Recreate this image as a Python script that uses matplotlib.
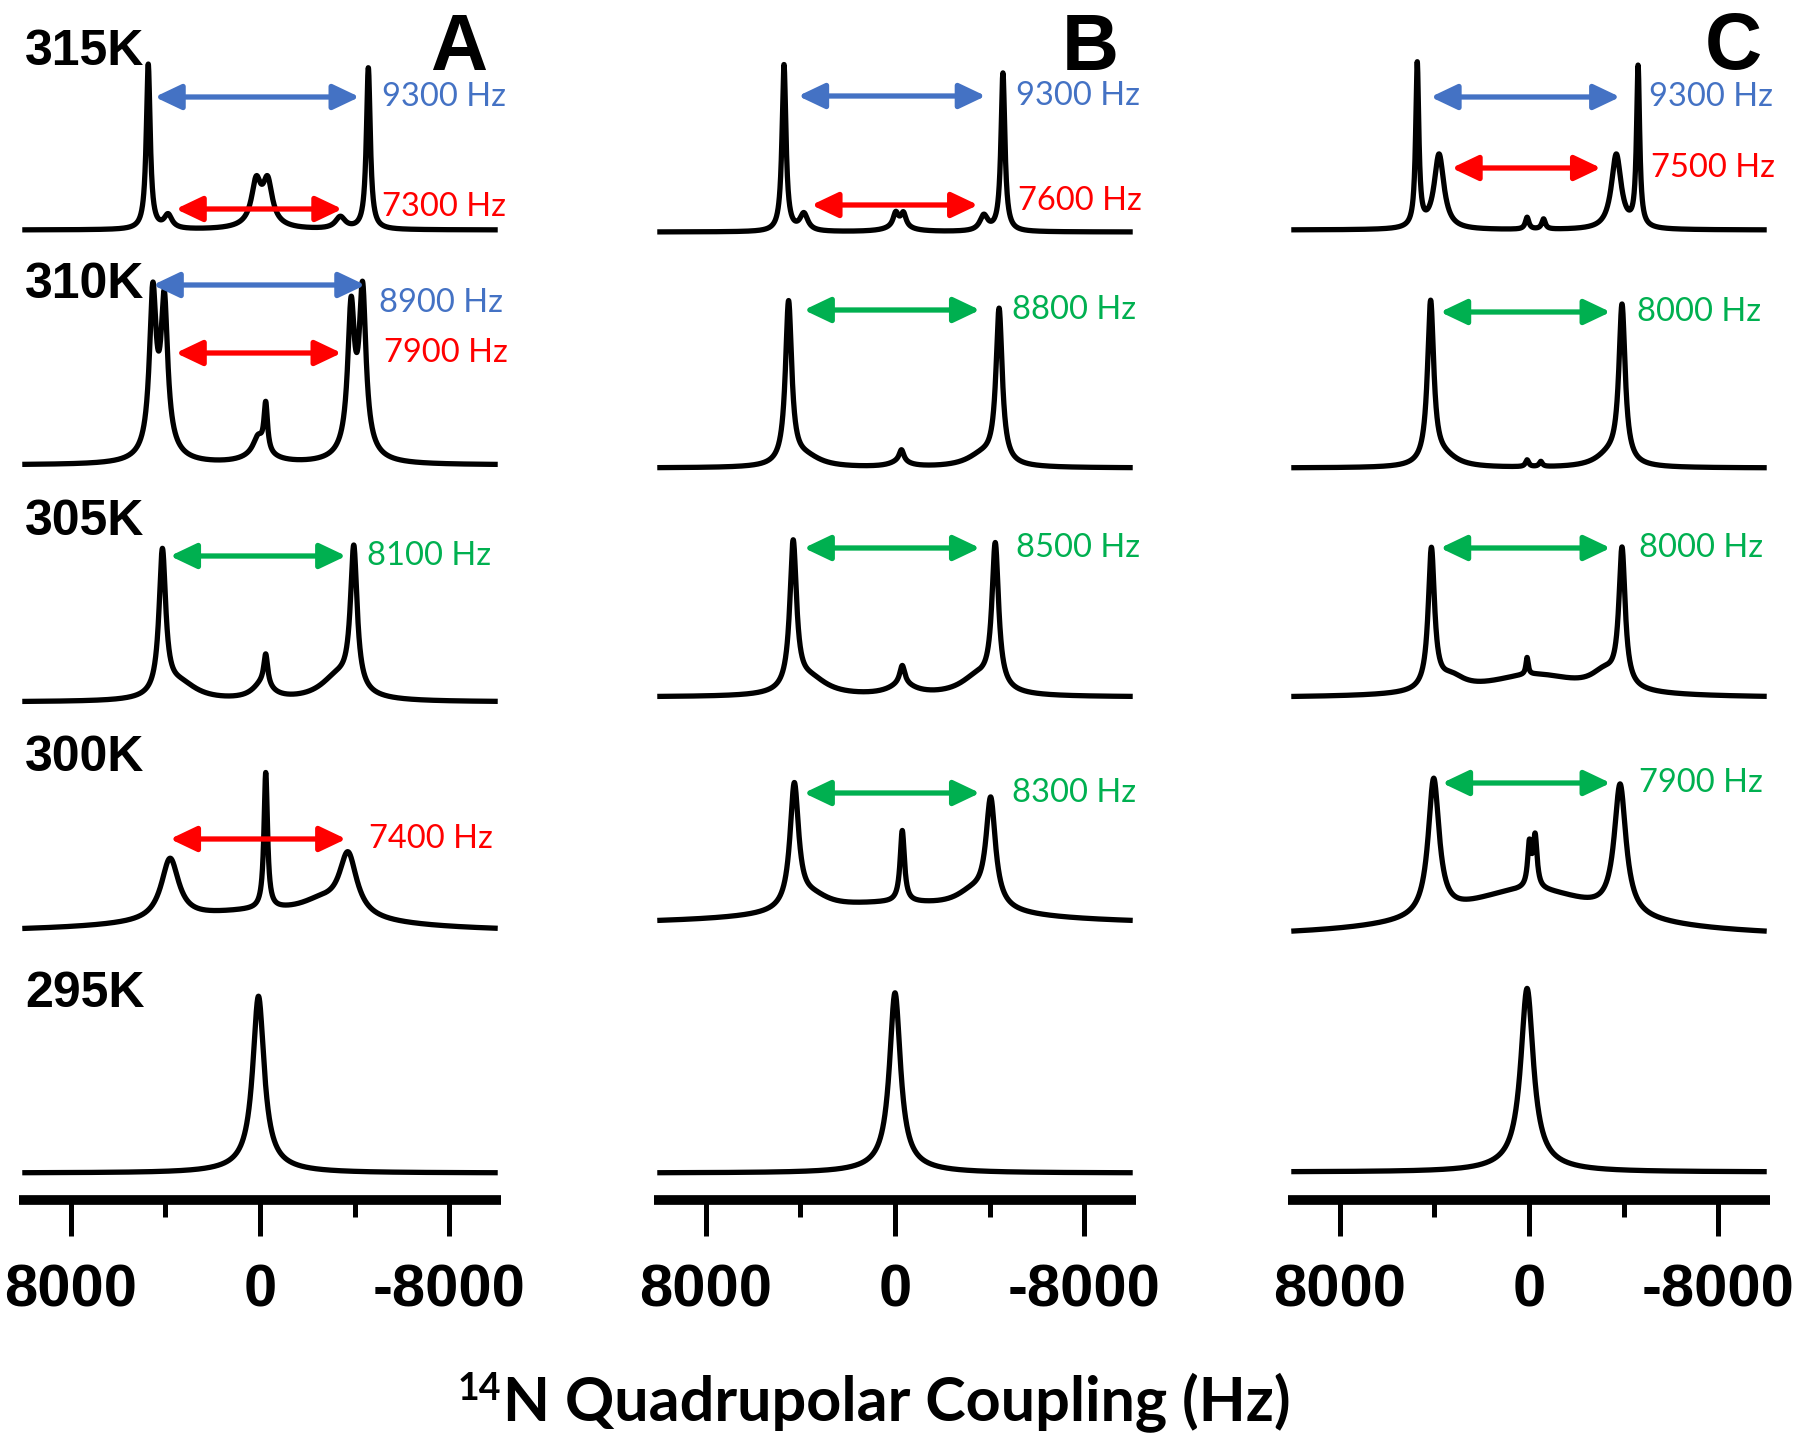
import numpy as np
import matplotlib
matplotlib.use("Agg")
import matplotlib.pyplot as plt
from matplotlib import font_manager

# ---------------- data ----------------
temperatures = ["315K", "310K", "305K", "300K", "295K"]
panels = ["A", "B", "C"]
tick_values = [8000, 0, -8000]
minor_tick_values = [4000, -4000]

# Lorentzian components for each spectrum: (position Hz, relative height, half-width Hz)
A_315 = [(4730, 0.97, 100), (-4585, 0.95, 100), (162, 0.23, 230), (-324, 0.23, 230),
         (3890, 0.08, 200), (-3400, 0.07, 250), (-80, 0.05, 700)]
A_310 = [(4536, 0.90, 170), (4050, 0.83, 170), (-3856, 0.80, 170), (-4342, 0.90, 170),
         (4200, 0.10, 700), (-4100, 0.10, 700), (-243, 0.28, 90), (81, 0.10, 250), (0, 0.05, 800)]
A_305 = [(4131, 0.84, 170), (-3969, 0.83, 170), (3400, 0.10, 900), (-3300, 0.14, 900),
         (-243, 0.18, 100), (-100, 0.09, 500)]
A_300 = [(0, 0.12, 5000), (3807, 0.36, 450), (-3726, 0.36, 450), (-2600, 0.08, 1100),
         (-243, 0.80, 90)]
A_295 = [(65, 1.00, 290), (65, 0.04, 1500)]

B_315 = [(4698, 0.98, 100), (-4568, 0.93, 100), (3856, 0.10, 200), (-3758, 0.09, 200),
         (-32, 0.08, 130), (-356, 0.08, 130), (-150, 0.03, 600)]
B_310 = [(4504, 0.95, 160), (-4406, 0.90, 160), (3800, 0.06, 800), (-3700, 0.07, 800),
         (-275, 0.07, 120), (-200, 0.03, 500)]
B_305 = [(4309, 0.86, 170), (-4244, 0.84, 170), (3600, 0.10, 900), (-3500, 0.11, 900),
         (-308, 0.11, 130), (-300, 0.06, 700)]
B_300 = [(0, 0.12, 5000), (4261, 0.72, 220), (-4050, 0.62, 240), (3500, 0.08, 900),
         (-3300, 0.10, 900), (-308, 0.42, 110)]
B_295 = [(0, 1.02, 280), (0, 0.04, 1500)]

C_315 = [(4730, 0.96, 80), (-4617, 0.94, 80), (3807, 0.44, 250), (-3694, 0.44, 250),
         (81, 0.07, 90), (-616, 0.06, 90)]
C_310 = [(4163, 0.95, 160), (-3937, 0.92, 160), (3600, 0.06, 700), (-3400, 0.07, 700),
         (81, 0.04, 80), (-500, 0.03, 80)]
C_305 = [(4131, 0.82, 160), (-3937, 0.80, 160), (3300, 0.08, 700), (-3200, 0.10, 700),
         (81, 0.10, 60), (-200, 0.13, 2500)]
C_300 = [(0, 0.28, 4000), (4034, 0.80, 280), (-3856, 0.76, 300), (-16, 0.25, 90),
         (-259, 0.30, 100)]
C_295 = [(81, 1.03, 320), (81, 0.05, 1500)]

spectra = {"A": [A_315, A_310, A_305, A_300, A_295],
           "B": [B_315, B_310, B_305, B_300, B_295],
           "C": [C_315, C_310, C_305, C_300, C_295]}

# splitting arrows: (row index, start Hz, end Hz, colour key, label, label Hz)
A_arrows = [(0, 4455, -4212, "blue", "9300 Hz", -5184), (0, 3564, -3483, "red", "7300 Hz", -5184),
            (1, 4536, -4455, "blue", "8900 Hz", -5022), (1, 3564, -3450, "red", "7900 Hz", -5265),
            (2, 3807, -3645, "green", "8100 Hz", -4536), (3, 3807, -3645, "red", "7400 Hz", -4617)]
B_arrows = [(0, 4099, -3839, "blue", "9300 Hz", -5135), (0, 3532, -3515, "red", "7600 Hz", -5216),
            (1, 3856, -3596, "green", "8800 Hz", -4973), (2, 3856, -3596, "green", "8500 Hz", -5135),
            (3, 3856, -3596, "green", "8300 Hz", -4973)]
C_arrows = [(0, 4163, -3856, "blue", "9300 Hz", -5071), (0, 3272, -3046, "red", "7500 Hz", -5152),
            (1, 3758, -3451, "green", "8000 Hz", -4585), (2, 3758, -3451, "green", "8000 Hz", -4666),
            (3, 3677, -3451, "green", "7900 Hz", -4666)]
arrows = {"A": A_arrows, "B": B_arrows, "C": C_arrows}

# ---------------- styling / layout ----------------
W, H, DPI = 1800, 1435, 100
colors = {"blue": "#4472C4", "red": "#FF0000", "green": "#00B050"}
names = {f.name for f in font_manager.fontManager.ttflist}
narrow = "Liberation Sans Narrow" if "Liberation Sans Narrow" in names else "Liberation Sans"

axis_y_px = 1200            # axis line, px from top
panel_left_px = [19, 654, 1288]
panel_letter_x_px = [430, 1062, 1705]
panel_width_px = 482
xlim_hz = 10200
row_base_px = {"A": [970, 735, 498, 267, 27],
               "B": [968, 732, 503, 275, 27],
               "C": [970, 732, 502, 262, 28]}
scale_px = 170              # px per unit intensity
row_label_y_px = [52, 285, 522, 758, 994]

# arrow heights above axis line, px (layout)
arrow_heights = {"A": [1103, 991, 915, 847, 644, 361],
                 "B": [1104, 995, 890, 652, 407],
                 "C": [1103, 1032, 888, 652, 417]}
label_dy = {"A": [0, 2, -18, 0, 0, 0], "B": [0, 4, 0, 0, 0], "C": [0, 0, 0, 0, 0]}

fig = plt.figure(figsize=(W / DPI, H / DPI), dpi=DPI)

x = np.linspace(9950, -9950, 3000)

def spectrum(components):
    y = np.zeros_like(x)
    for p, h, w in components:
        y += h / (1.0 + ((x - p) / w) ** 2)
    return y

for pi, key in enumerate(panels):
    ax = fig.add_axes([panel_left_px[pi] / W, (H - axis_y_px) / H,
                       panel_width_px / W, axis_y_px / H])
    ax.set_xlim(xlim_hz, -xlim_hz)
    ax.set_ylim(0, axis_y_px)
    for s in ["top", "left", "right"]:
        ax.spines[s].set_visible(False)
    ax.spines["bottom"].set_linewidth(7)
    ax.spines["bottom"].set_capstyle("butt")
    ax.set_yticks([])
    ax.set_xticks(tick_values)
    ax.set_xticklabels([str(v) for v in tick_values], fontfamily=narrow,
                       fontweight="bold", fontsize=43)
    ax.set_xticks(minor_tick_values, minor=True)
    ax.tick_params(axis="x", which="major", length=26, width=3.6, pad=20, color="black")
    ax.tick_params(axis="x", which="minor", length=12, width=3.6, color="black")
    ax.patch.set_alpha(0)

    for ri, comps in enumerate(spectra[key]):
        y = row_base_px[key][ri] + scale_px * spectrum(comps)
        ax.plot(x, y, color="black", lw=3.8, solid_joinstyle="round")

    for ai, (ri, x0, x1, ck, label, lx) in enumerate(arrows[key]):
        yy = arrow_heights[key][ai]
        ax.annotate("", xy=(x1, yy), xytext=(x0, yy),
                    arrowprops=dict(arrowstyle="<|-|>,head_length=0.8,head_width=0.38",
                                    color=colors[ck], lw=3.8, shrinkA=0, shrinkB=0,
                                    mutation_scale=20))
        ax.text(lx, yy + label_dy[key][ai], label, color=colors[ck], fontfamily="Lato",
                fontsize=23.5, ha="left", va="center")

    fig.text(panel_letter_x_px[pi] / W, 1 - 49 / H, key,
             fontfamily="Liberation Sans", fontweight="bold", fontsize=57,
             ha="left", va="center")

for t, yp in zip(temperatures, row_label_y_px):
    fig.text(25 / W, 1 - yp / H, t, fontfamily="Liberation Sans", fontweight="bold",
             fontsize=36, ha="left", va="center")

fig.text(501 / W, 1 - 1400 / H, "14", fontfamily="Lato", fontweight="bold",
         fontsize=27, ha="right", va="baseline")
fig.text(503 / W, 1 - 1421 / H, "N Quadrupolar Coupling (Hz)", fontfamily="Lato",
         fontweight="bold", fontsize=44, ha="left", va="baseline")

fig.savefig("out.png", dpi=DPI)
